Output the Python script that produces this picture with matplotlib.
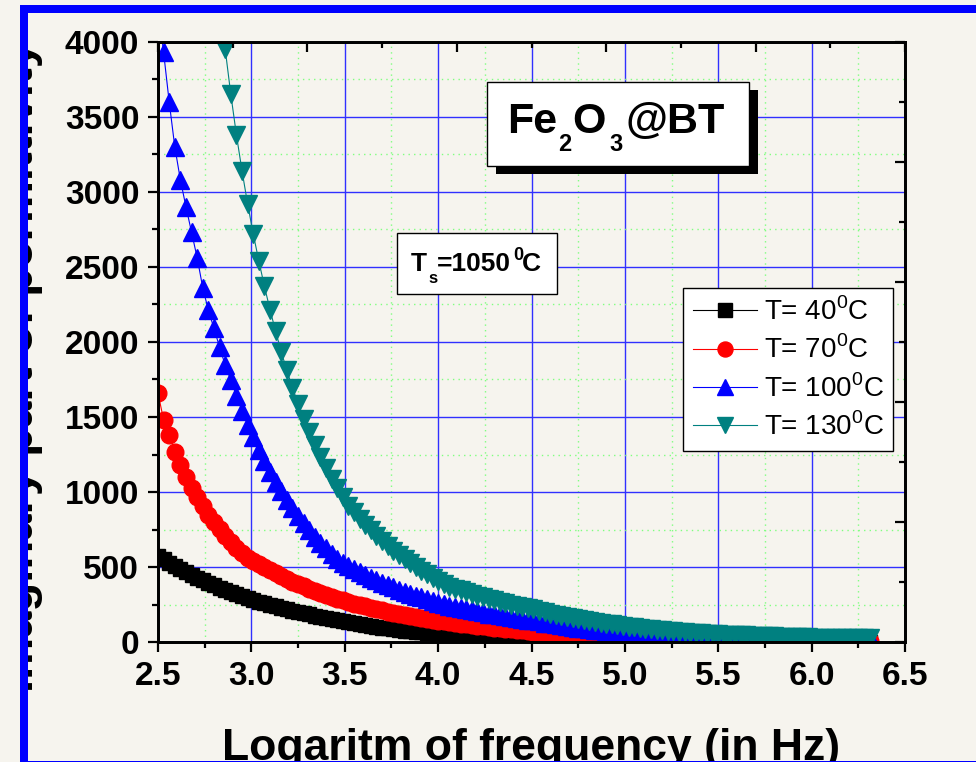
import numpy as np
import matplotlib
matplotlib.use('Agg')
import matplotlib.pyplot as plt
from matplotlib.patches import Rectangle
from matplotlib.ticker import MultipleLocator

plt.rcParams['font.family'] = ['Liberation Sans', 'DejaVu Sans']
plt.rcParams['mathtext.fontset'] = 'custom'
plt.rcParams['mathtext.rm'] = 'Liberation Sans'
plt.rcParams['mathtext.bf'] = 'Liberation Sans:bold'

# log of frequency (Hz)
log_f = [2.50, 2.53, 2.56, 2.59, 2.62, 2.65, 2.68, 2.71, 2.74, 2.77,
         2.80, 2.83, 2.86, 2.89, 2.92, 2.95, 2.98, 3.01, 3.04, 3.07,
         3.10, 3.13, 3.16, 3.19, 3.22, 3.25, 3.28, 3.31, 3.34, 3.37,
         3.40, 3.43, 3.46, 3.49, 3.52, 3.55, 3.58, 3.61, 3.64, 3.67,
         3.70, 3.73, 3.76, 3.79, 3.82, 3.85, 3.88, 3.91, 3.94, 3.97,
         4.00, 4.03, 4.06, 4.09, 4.12, 4.15, 4.18, 4.21, 4.24, 4.27,
         4.30, 4.33, 4.36, 4.39, 4.42, 4.45, 4.48, 4.51, 4.54, 4.57,
         4.60, 4.63, 4.66, 4.69, 4.72, 4.75, 4.78, 4.81, 4.84, 4.87,
         4.90, 4.93, 4.96, 4.99, 5.02, 5.05, 5.08, 5.11, 5.14, 5.17,
         5.20, 5.23, 5.26, 5.29, 5.32, 5.35, 5.38, 5.41, 5.44, 5.47,
         5.50, 5.53, 5.56, 5.59, 5.62, 5.65, 5.68, 5.71, 5.74, 5.77,
         5.80, 5.83, 5.86, 5.89, 5.92, 5.95, 5.98, 6.01, 6.04, 6.07,
         6.10, 6.13, 6.16, 6.19, 6.22, 6.25, 6.28, 6.31]

# imaginary permittivity at each temperature
eps_40 = [575, 551, 529, 507, 486, 466, 447, 429, 411, 394,
          378, 363, 348, 334, 320, 307, 294, 282, 270, 259,
          248, 238, 228, 218, 209, 200, 192, 184, 176, 169,
          162, 155, 148, 142, 136, 128, 121, 114, 108, 102,
          96, 91, 86, 81, 76, 72, 68, 64, 60, 57,
          54, 51, 48, 45, 42, 40, 37, 35, 33, 31,
          29, 27, 26, 24, 23, 21, 20, 19, 18, 17,
          16, 15, 14, 13, 12, 11, 11, 10, 9, 9,
          8, 8, 8, 7, 7, 6, 6, 6, 5, 5,
          5, 5, 4, 4, 4, 4, 4, 4, 3, 3,
          3, 3, 3, 3, 3, 3, 3, 3, 3, 3,
          3, 3, 3, 3, 3, 3, 3, 3, 3, 3,
          3, 3, 3, 3, 3, 3, 3, 3]

eps_70 = [1660, 1480, 1380, 1270, 1180, 1100, 1030, 965, 905, 850,
          800, 752, 708, 667, 630, 595, 563, 540, 518, 497,
          477, 457, 438, 420, 403, 387, 371, 356, 341, 327,
          314, 301, 289, 277, 266, 256, 246, 237, 228, 219,
          211, 203, 195, 188, 181, 174, 167, 161, 155, 149,
          143, 138, 133, 128, 123, 118, 113, 109, 104, 100,
          96, 92, 88, 84, 80, 77, 73, 70, 66, 63,
          60, 57, 54, 51, 49, 46, 44, 42, 40, 38,
          36, 34, 32, 31, 29, 28, 26, 25, 24, 22,
          21, 20, 19, 18, 17, 16, 15, 15, 14, 13,
          13, 12, 12, 11, 11, 10, 10, 10, 9, 9,
          9, 9, 8, 8, 8, 8, 8, 7, 7, 7,
          7, 7, 7, 6, 6, 6, 6, 6]

eps_100 = [4250, 3930, 3600, 3300, 3080, 2900, 2730, 2560, 2360, 2210,
           2090, 1965, 1845, 1745, 1640, 1542, 1450, 1364, 1283, 1207,
           1136, 1069, 1006, 947, 892, 840, 791, 745, 702, 662,
           624, 589, 556, 525, 504, 484, 465, 446, 428, 411,
           395, 379, 364, 349, 335, 322, 309, 297, 285, 273,
           263, 252, 242, 234, 226, 218, 211, 204, 197, 190,
           184, 177, 171, 166, 160, 155, 149, 144, 137, 130,
           124, 118, 112, 107, 101, 96, 92, 87, 83, 79,
           75, 71, 68, 65, 62, 60, 58, 56, 54, 52,
           50, 48, 46, 45, 43, 42, 40, 39, 38, 37,
           36, 35, 35, 34, 34, 33, 33, 32, 32, 32,
           31, 31, 31, 30, 30, 30, 30, 29, 29, 29,
           29, 28, 28, 28, 28, 27, 27, 27]

nan = np.nan
eps_130 = [nan, nan, nan, nan, nan, nan, nan, nan, nan, nan,
           nan, 4350, 3950, 3650, 3380, 3140, 2920, 2720, 2540, 2370,
           2215, 2070, 1935, 1810, 1695, 1590, 1490, 1400, 1315, 1235,
           1160, 1090, 1025, 965, 910, 865, 823, 783, 745, 708,
           673, 640, 609, 579, 551, 524, 498, 474, 451, 429,
           408, 388, 369, 356, 344, 332, 320, 309, 298, 288,
           278, 268, 259, 250, 241, 233, 225, 217, 208, 199,
           190, 182, 174, 167, 160, 153, 146, 140, 134, 128,
           123, 117, 112, 107, 103, 98, 94, 90, 86, 82,
           79, 75, 72, 69, 66, 63, 60, 58, 55, 53,
           51, 49, 48, 46, 45, 44, 42, 41, 40, 39,
           37, 36, 35, 34, 33, 32, 31, 30, 30, 29,
           29, 28, 28, 27, 27, 26, 26, 26]

labels = [r'T= 40$^0$C', r'T= 70$^0$C', r'T= 100$^0$C', r'T= 130$^0$C']

W, H = 976, 762
bg = '#f6f4ee'
fig = plt.figure(figsize=(W / 100, H / 100), dpi=100, facecolor=bg)


def fx(px):
    return px / W


def fy(py):
    return 1 - py / H


ax = fig.add_axes([fx(158), fy(642), (905 - 158) / W, (642 - 42) / H])
ax.set_facecolor(bg)

ax.plot(log_f, eps_40, color='black', marker='s', ms=10.5, lw=0.8, label=labels[0])
ax.plot(log_f, eps_70, color='red', marker='o', ms=12, lw=0.8, label=labels[1])
ax.plot(log_f, eps_100, color='blue', marker='^', ms=13, lw=0.8, label=labels[2])
ax.plot(log_f, eps_130, color='#008080', marker='v', ms=13, lw=0.8, label=labels[3])

ax.set_xlim(2.5, 6.5)
ax.set_ylim(0, 4000)
ax.xaxis.set_major_locator(MultipleLocator(0.5))
ax.xaxis.set_minor_locator(MultipleLocator(0.25))
ax.yaxis.set_major_locator(MultipleLocator(500))
ax.yaxis.set_minor_locator(MultipleLocator(250))
ax.set_xticklabels([f'{v:.1f}' for v in ax.get_xticks()])

ax.set_axisbelow(True)
ax.grid(which='major', color='#3030ff', lw=1.0, ls='-')
ax.grid(which='minor', color='#80ff80', lw=1.0, ls=(0, (1, 3)))

ax.tick_params(which='major', direction='out', length=7.5, width=1.6, labelsize=24, pad=6)
ax.tick_params(which='minor', direction='out', length=4, width=1.6)
for lab in ax.get_xticklabels() + ax.get_yticklabels():
    lab.set_fontweight('bold')
for s in ax.spines.values():
    s.set_linewidth(1.8)

# top / right axes of the original have their own tick spacing
tx = ax.twiny()
tx.set_xlim(0, 5)
tx.xaxis.set_major_locator(MultipleLocator(1))
tx.xaxis.set_minor_locator(MultipleLocator(0.5))
tx.tick_params(axis='x', which='major', direction='in', length=7.5, width=1.6, labeltop=False)
tx.tick_params(axis='x', which='minor', direction='in', length=4, width=1.6)
ty = ax.twinx()
ty.set_ylim(0, 5)
ty.yaxis.set_major_locator(MultipleLocator(1))
ty.yaxis.set_minor_locator(MultipleLocator(0.5))
ty.tick_params(axis='y', which='major', direction='in', length=7.5, width=1.6, labelright=False)
ty.tick_params(axis='y', which='minor', direction='in', length=4, width=1.6)
for t in (tx, ty):
    for s in t.spines.values():
        s.set_linewidth(1.8)

ax.set_xlabel('Logaritm of frequency (in Hz)', fontsize=32, fontweight='bold')
ax.xaxis.set_label_coords(0.5, -0.143)
ax.set_ylabel('Imaginary part of permittivity', fontsize=34, fontweight='bold')
ax.yaxis.set_label_coords(-0.154, 0.459)

leg = ax.legend(loc='upper left', bbox_to_anchor=(0.7028, 0.59), borderaxespad=0,
                fontsize=20, fancybox=False, edgecolor='black', facecolor='white',
                framealpha=1, handlelength=2.3, handletextpad=0.25, borderpad=0.35,
                labelspacing=0.35, numpoints=1, markerscale=0.9)
leg.get_frame().set_linewidth(1.0)


def put(px, py, s, size, z=7):
    fig.text(fx(px), fy(py), s, ha='left', va='baseline', fontsize=size,
             fontweight='bold', zorder=z)


# sample box with shadow
fig.add_artist(Rectangle((fx(496), fy(174)), (758 - 496) / W, (174 - 90) / H,
                         transform=fig.transFigure, facecolor='black', edgecolor='none', zorder=5))
fig.add_artist(Rectangle((fx(487), fy(166)), (749 - 487) / W, (166 - 82) / H,
                         transform=fig.transFigure, facecolor='white', edgecolor='black',
                         lw=1.0, zorder=6))
put(507, 133, 'Fe', 31)
put(558, 151, '2', 17)
put(572, 133, 'O', 31)
put(609, 151, '3', 17)
put(625, 133, '@BT', 31)

# sintering temperature box
fig.add_artist(Rectangle((fx(397), fy(294)), (557 - 397) / W, (294 - 233) / H,
                         transform=fig.transFigure, facecolor='white', edgecolor='black',
                         lw=1.0, zorder=6))
put(411, 271, 'T', 19)
put(428, 283, 's', 12)
put(437, 271, '=1050', 19)
put(513, 260, '0', 13)
put(522, 271, 'C', 19)

# blue frame of the screenshot
fig.add_artist(Rectangle((0, 0), fx(20), 1, transform=fig.transFigure,
                         facecolor=bg, edgecolor='none', zorder=10))
fig.add_artist(Rectangle((fx(20), 0), (28 - 20) / W, fy(5), transform=fig.transFigure,
                         facecolor='#0000ff', edgecolor='none', zorder=11))
fig.add_artist(Rectangle((fx(20), fy(12.5)), 1 - fx(20), (12.5 - 5) / H, transform=fig.transFigure,
                         facecolor='#0000ff', edgecolor='none', zorder=11))
fig.add_artist(Rectangle((fx(20), 0), 1 - fx(20), 1.5 / H, transform=fig.transFigure,
                         facecolor='#0000ff', edgecolor='none', zorder=11))

fig.savefig('out.png', dpi=100, facecolor=bg)
